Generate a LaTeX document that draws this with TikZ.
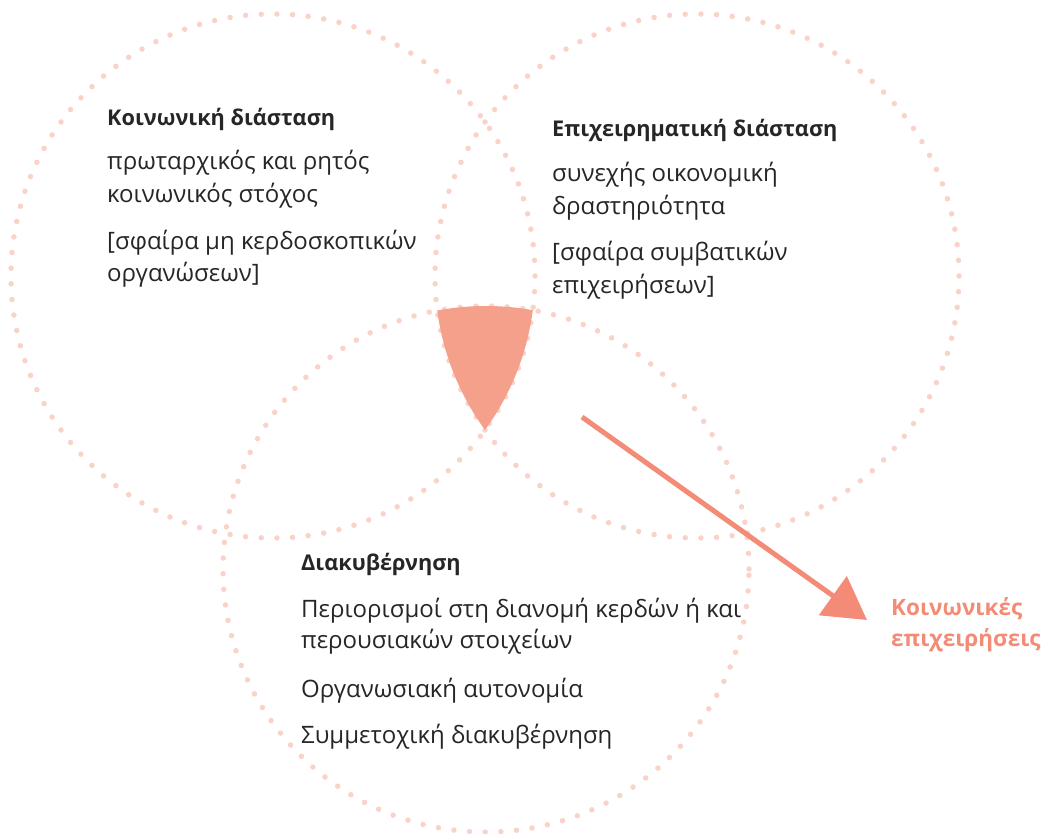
\documentclass[tikz,border=0pt]{standalone}
\usepackage{fontspec}
\setmainfont{Open Sans}
\usetikzlibrary{arrows.meta}
\definecolor{dotc}{HTML}{F9D3C8}
\definecolor{fillc}{HTML}{F4A08B}
\definecolor{arrc}{HTML}{F38B76}
\definecolor{txtc}{HTML}{262626}
\begin{document}
\begin{tikzpicture}[x=1pt,y=-1pt,
  venn/.style={circle, minimum size=524pt, inner sep=0pt, draw=dotc,
    line width=5.5pt, dash pattern=on 0pt off 15.68pt, line cap=round},
  body/.style={anchor=base west, inner sep=0pt, text=txtc,
    font=\fontsize{24}{32}\selectfont},
  ttl/.style={body, font=\fontsize{21.7}{32}\selectfont\bfseries},
  lbl/.style={anchor=base west, inner sep=0pt, text=arrc,
    font=\fontsize{22.5}{32}\selectfont\bfseries},
  conn/.style={draw=arrc, line width=5pt,
    -{Triangle[length=42pt,width=47pt]}}
]
\useasboundingbox (0,0) rectangle (1055,833);
% circles
\node[venn] (c1) at (273,276) {};
\node[venn] (c2) at (697,276) {};
\node[venn, minimum size=526pt] (c3) at (486,569) {};
% common region
\begin{scope}
  \clip (c1.center) circle[radius=262pt];
  \clip (c2.center) circle[radius=262pt];
  \fill[fillc] (c3.center) circle[radius=263pt];
\end{scope}
% left block
\node[ttl]  (l0) at (107,125) {Κοινωνική διάσταση};
\node[body] (l1) at (107,169) {πρωταρχικός και ρητός};
\node[body] (l2) at (107,202) {κοινωνικός στόχος};
\node[body] (l3) at (107,249) {[σφαίρα μη κερδοσκοπικών};
\node[body] (l4) at (107,281) {οργανώσεων]};
% right block
\node[ttl]  (r0) at (552,136) {Επιχειρηματική διάσταση};
\node[body] (r1) at (552,181) {συνεχής οικονομική};
\node[body] (r2) at (552,214) {δραστηριότητα};
\node[body] (r3) at (552,260) {[σφαίρα συμβατικών};
\node[body] (r4) at (552,293) {επιχειρήσεων]};
% bottom block
\node[ttl]  (b0) at (301,570) {Διακυβέρνηση};
\node[body] (b1) at (301,617) {Περιορισμοί στη διανομή κερδών ή και};
\node[body] (b2) at (301,648) {περουσιακών στοιχείων};
\node[body] (b3) at (301,697) {Οργανωσιακή αυτονομία};
\node[body] (b4) at (301,743) {Συμμετοχική διακυβέρνηση};
% label and arrow
\node[lbl] (k1) at (891,615) {Κοινωνικές};
\node[lbl] (k2) at (891,646) {επιχειρήσεις};
\coordinate (as) at (582,417);
\coordinate (ae) at (867,620);
\draw[conn] (as) -- (ae);
\end{tikzpicture}
\end{document}
